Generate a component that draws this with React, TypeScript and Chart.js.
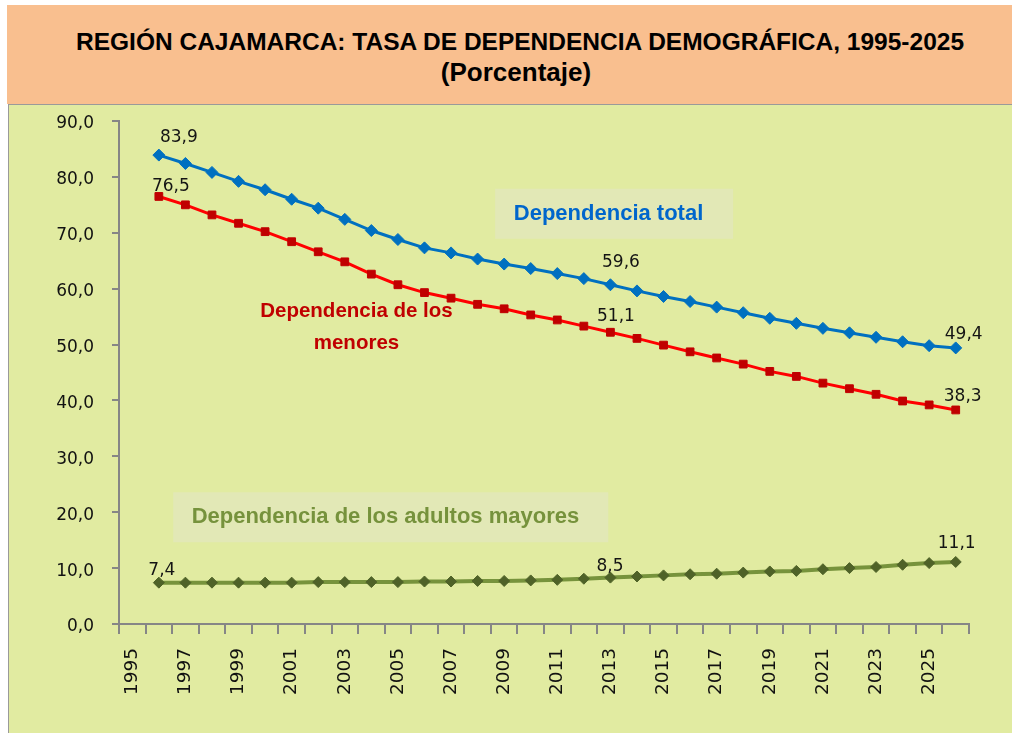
import React, { useEffect, useRef } from "react";
import { Chart, registerables } from "chart.js";

Chart.register(...registerables);

// ---------- DATA ----------
const years = [
  "1995", "1996", "1997", "1998", "1999", "2000", "2001", "2002",
  "2003", "2004", "2005", "2006", "2007", "2008", "2009", "2010",
  "2011", "2012", "2013", "2014", "2015", "2016", "2017", "2018",
  "2019", "2020", "2021", "2022", "2023", "2024", "2025", "2026",
];

const dependenciaTotal = [
  null, 83.9, 82.4, 80.8, 79.2, 77.7, 76.0, 74.4, 72.4, 70.4, 68.8, 67.3,
  66.4, 65.3, 64.4, 63.6, 62.7, 61.8, 60.7, 59.6, 58.6, 57.7, 56.7, 55.7,
  54.7, 53.8, 52.9, 52.1, 51.3, 50.5, 49.8, 49.4,
];

const dependenciaMenores = [
  null, 76.5, 75.0, 73.2, 71.7, 70.2, 68.4, 66.6, 64.8, 62.6, 60.7, 59.3,
  58.3, 57.2, 56.4, 55.3, 54.4, 53.3, 52.2, 51.1, 49.9, 48.7, 47.6, 46.5,
  45.2, 44.3, 43.1, 42.1, 41.1, 39.9, 39.2, 38.3,
];

const dependenciaMayores = [
  null, 7.4, 7.4, 7.4, 7.4, 7.4, 7.4, 7.5, 7.5, 7.5, 7.5, 7.6,
  7.6, 7.7, 7.7, 7.8, 7.9, 8.1, 8.3, 8.5, 8.7, 8.9, 9.0, 9.2,
  9.4, 9.5, 9.8, 10.0, 10.2, 10.6, 10.9, 11.1,
];

const yTicks = [0, 10, 20, 30, 40, 50, 60, 70, 80, 90];

// points that carry a value label (category indexes)
const labelledPoints = [1, 19, 31];

// ---------- STYLE ----------
const labelOffsets = [
  [[20, -17.5], [-16, -28.5], [8, -13]], // total
  [[12, -10], [-21, -22], [7, -13.5]], // menores
  [[3, -12.5], [-27, -10], [1, -18.5]], // mayores
];

const annotations = [
  { lines: ["Dependencia total"], idx: 17.93, value: 73.4, color: "#0066CC", size: 22, box: { idx: 18.14, w: 238, h: 50 } },
  { lines: ["Dependencia de los", "menores"], idx: 8.44, value: 56.0, lineGap: 32, color: "#C00000", size: 20.5 },
  { lines: ["Dependencia de los adultos mayores"], idx: 9.53, value: 19.1, color: "#76923C", size: 22, box: { idx: 9.73, w: 435, h: 50 } },
];

const fmt = (v: number) => v.toFixed(1).replace(".", ",");

const dataLabelPlugin = {
  id: "dataLabels",
  afterDatasetsDraw(chart: any) {
    const ctx = chart.ctx;
    ctx.save();
    ctx.font = '17px "DejaVu Sans"';
    ctx.fillStyle = "#141414";
    ctx.textAlign = "center";
    ctx.textBaseline = "middle";
    labelOffsets.forEach((offs, ds) => {
      const meta = chart.getDatasetMeta(ds);
      const values = chart.data.datasets[ds].data;
      labelledPoints.forEach((ci, k) => {
        const pt = meta.data[ci];
        const v = values[ci];
        if (!pt || v == null) return;
        ctx.fillText(fmt(v), pt.x + offs[k][0], pt.y + offs[k][1]);
      });
    });
    ctx.restore();
  },
};

const annotationPlugin = {
  id: "annotations",
  afterDatasetsDraw(chart: any) {
    const ctx = chart.ctx;
    const xs = chart.scales.x;
    const ys = chart.scales.y;
    ctx.save();
    annotations.forEach((a: any) => {
      const cy = ys.getPixelForValue(a.value);
      if (a.box) {
        const bx = xs.getPixelForValue(a.box.idx);
        ctx.fillStyle = "#E2E8B6";
        ctx.fillRect(bx - a.box.w / 2, cy - a.box.h / 2, a.box.w, a.box.h);
      }
      const tx = xs.getPixelForValue(a.idx);
      ctx.fillStyle = a.color;
      ctx.font = `bold ${a.size}px "Liberation Sans", Arial, sans-serif`;
      ctx.textAlign = "center";
      ctx.textBaseline = "middle";
      a.lines.forEach((line: string, i: number) => {
        ctx.fillText(line, tx, cy + i * (a.lineGap || 0));
      });
    });
    ctx.restore();
  },
};

export default function App() {
  const canvasRef = useRef<HTMLCanvasElement | null>(null);

  useEffect(() => {
    document.body.style.overflow = "hidden";
    const canvas = canvasRef.current;
    if (!canvas) return;
    const chart = new Chart(canvas, {
      type: "line",
      data: {
        labels: years,
        datasets: [
          {
            label: "Dependencia total",
            data: dependenciaTotal,
            borderColor: "#0070C0",
            backgroundColor: "#0070C0",
            borderWidth: 3,
            pointStyle: "rectRot",
            pointRadius: 6,
            pointBorderWidth: 1,
            pointBackgroundColor: "#0070C0",
            pointBorderColor: "#0070C0",
            tension: 0,
          },
          {
            label: "Dependencia de los menores",
            data: dependenciaMenores,
            borderColor: "#FF0000",
            backgroundColor: "#C00000",
            borderWidth: 3,
            pointStyle: "rect",
            pointRadius: 5.5,
            pointBorderWidth: 1,
            pointBackgroundColor: "#C00000",
            pointBorderColor: "#C00000",
            tension: 0,
          },
          {
            label: "Dependencia de los adultos mayores",
            data: dependenciaMayores,
            borderColor: "#77933C",
            backgroundColor: "#4F6228",
            borderWidth: 4,
            pointStyle: "rectRot",
            pointRadius: 5.5,
            pointBorderWidth: 1,
            pointBackgroundColor: "#4F6228",
            pointBorderColor: "#4F6228",
            tension: 0,
          },
        ],
      },
      options: {
        animation: false,
        responsive: false,
        maintainAspectRatio: false,
        layout: { padding: { top: 16, right: 43, left: 0, bottom: 0 } },
        plugins: {
          legend: { display: false },
          title: { display: false },
          tooltip: { enabled: false },
        },
        scales: {
          x: {
            type: "category",
            offset: true,
            grid: {
              offset: true,
              drawOnChartArea: false,
              drawTicks: true,
              tickLength: 10,
              color: "#868686",
              lineWidth: 2,
            },
            border: { color: "#868686", width: 2 },
            ticks: {
              autoSkip: false,
              minRotation: 90,
              maxRotation: 90,
              padding: 14,
              color: "#111111",
              font: { family: "DejaVu Sans", size: 18.5 },
              callback: (_v: any, i: number) => (i % 2 === 0 ? years[i] : ""),
            },
            afterFit: (scale: any) => {
              scale.height = 109;
            },
          },
          y: {
            min: yTicks[0],
            max: yTicks[yTicks.length - 1],
            afterBuildTicks: (scale: any) => {
              scale.ticks = yTicks.map((v) => ({ value: v }));
            },
            grid: {
              drawOnChartArea: false,
              drawTicks: true,
              tickLength: 7,
              color: "#868686",
              lineWidth: 2,
            },
            border: { color: "#868686", width: 2 },
            ticks: {
              padding: 18,
              labelOffset: 3,
              color: "#111111",
              font: { family: "DejaVu Sans", size: 17 },
              callback: (v: any) => fmt(Number(v)),
            },
            afterFit: (scale: any) => {
              scale.width = 110;
              scale.paddingTop = 0;
              scale.paddingBottom = 0;
            },
          },
        },
      },
      plugins: [annotationPlugin, dataLabelPlugin],
    });
    return () => chart.destroy();
  }, []);

  return (
    <>
      <div
        style={{
          position: "absolute",
          left: 7,
          top: 5,
          width: 1005,
          height: 99,
          boxSizing: "border-box",
          paddingLeft: 21,
          paddingTop: 22,
          background: "#F9BF8F",
          fontFamily: '"Liberation Sans", Arial, sans-serif',
          fontWeight: "bold",
          fontSize: 24.5,
          lineHeight: "30px",
          textAlign: "center",
          color: "#000",
        }}
      >
        <div>REGIÓN CAJAMARCA: TASA DE DEPENDENCIA DEMOGRÁFICA, 1995-2025</div>
        <div style={{ fontSize: 26, paddingRight: 8 }}>(Porcentaje)</div>
      </div>
      <div
        style={{
          position: "absolute",
          left: 8,
          top: 104,
          width: 1004,
          height: 629,
          boxSizing: "border-box",
          borderTop: "1px solid #9A9A9A",
          borderLeft: "1px solid #9A9A9A",
          background: "rgb(225,235,161)",
          overflow: "hidden",
        }}
      >
        <canvas
          ref={canvasRef}
          width={1003}
          height={628}
          style={{ display: "block", width: 1003, height: 628 }}
        />
      </div>
    </>
  );
}
